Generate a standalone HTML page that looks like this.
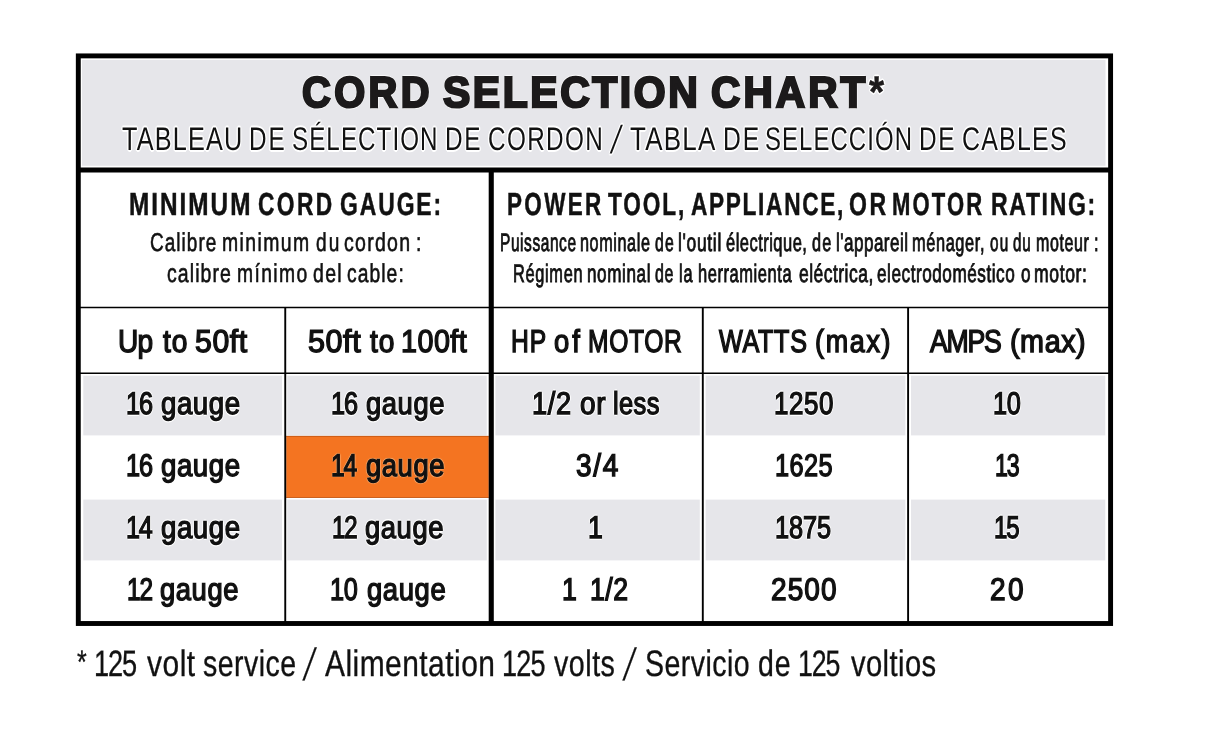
<!DOCTYPE html>
<html lang="en">
<head>
<meta charset="utf-8">
<meta name="viewport" content="width=1214">
<title>Cord Selection Chart</title>
<style>
html,body{margin:0;padding:0;background:#fff;}
body{width:1214px;height:736px;overflow:hidden;position:relative;font-family:"Liberation Sans",sans-serif;}
.chart{position:absolute;left:0;top:0;width:1214px;height:736px;}
.chart svg{position:absolute;left:0;top:0;}
.g{position:absolute;left:0;margin:0;padding:0;width:1214px;height:0;line-height:1;font-family:"Liberation Sans",sans-serif;font-style:normal;text-rendering:geometricPrecision;white-space:nowrap;}
.w{position:absolute;top:0;display:block;white-space:pre;transform-origin:0 0;}
.title{font-size:43.23px;font-weight:700;color:#1c1a1b;-webkit-text-stroke:2.4px #1c1a1b;text-shadow:1.60px 0 0.6px #fff,-1.60px 0 0.6px #fff,0 1.60px 0.6px #fff,0 -1.60px 0.6px #fff,1.13px 1.13px 0.6px #fff,-1.13px 1.13px 0.6px #fff,1.13px -1.13px 0.6px #fff,-1.13px -1.13px 0.6px #fff,0 0 3px #fff;}
.subtitle{font-size:32.72px;font-weight:400;color:#111;text-shadow:1.60px 0 0.6px #fff,-1.60px 0 0.6px #fff,0 1.60px 0.6px #fff,0 -1.60px 0.6px #fff,1.13px 1.13px 0.6px #fff,-1.13px 1.13px 0.6px #fff,1.13px -1.13px 0.6px #fff,-1.13px -1.13px 0.6px #fff,0 0 3px #fff;}
.head{font-size:31.82px;font-weight:700;color:#111;-webkit-text-stroke:0.5px #111;}
.sub{font-size:25.74px;font-weight:400;color:#111;-webkit-text-stroke:0.6px #111;}
.subr{font-size:25.23px;font-weight:400;color:#111;-webkit-text-stroke:0.9px #111;}
.th{font-size:31.67px;font-weight:400;color:#111;-webkit-text-stroke:1.4px #111;}
.td{font-size:31.42px;font-weight:400;color:#111;-webkit-text-stroke:1.4px #111;text-shadow:1.60px 0 0.6px #fff,-1.60px 0 0.6px #fff,0 1.60px 0.6px #fff,0 -1.60px 0.6px #fff,1.13px 1.13px 0.6px #fff,-1.13px 1.13px 0.6px #fff,1.13px -1.13px 0.6px #fff,-1.13px -1.13px 0.6px #fff,0 0 3px #fff;}
.td2{font-size:31.42px;font-weight:400;color:#111;-webkit-text-stroke:1.4px #111;}
.td3{font-size:31.42px;font-weight:400;color:#111;-webkit-text-stroke:1.4px #111;text-shadow:1.40px 0 0.6px #f9a869,-1.40px 0 0.6px #f9a869,0 1.40px 0.6px #f9a869,0 -1.40px 0.6px #f9a869,0.99px 0.99px 0.6px #f9a869,-0.99px 0.99px 0.6px #f9a869,0.99px -0.99px 0.6px #f9a869,-0.99px -0.99px 0.6px #f9a869,0 0 3px #f9a869;}
.foot{font-size:36.79px;font-weight:400;color:#111;-webkit-text-stroke:0.35px #111;}
</style>
</head>
<body>
<main class="chart" aria-label="Cord selection chart">
<svg width="1214" height="736" viewBox="0 0 1214 736" aria-hidden="true">
<g fill="#e6e6ea">
<rect x="82" y="60" width="1023.5" height="105.8"/>
<rect x="83.3" y="375.7" width="198.7" height="59.7"/>
<rect x="287.2" y="375.7" width="199.6" height="59.7"/>
<rect x="495.4" y="375.7" width="204.4" height="59.7"/>
<rect x="705.6" y="375.7" width="199.8" height="59.7"/>
<rect x="911" y="375.7" width="194.3" height="59.7"/>
<rect x="83.3" y="499.6" width="198.7" height="60.8"/>
<rect x="287.2" y="499.6" width="199.6" height="60.8"/>
<rect x="495.4" y="499.6" width="204.4" height="60.8"/>
<rect x="705.6" y="499.6" width="199.8" height="60.8"/>
<rect x="911" y="499.6" width="194.3" height="60.8"/>
</g>
<rect x="286.2" y="436" width="202.6" height="61.8" fill="#f47421"/>
<path d="M286.2 436.3H488.8M286.2 497.5H488.8" stroke="#b8500f" stroke-width="0.9" fill="none" opacity="0.8"/>
<g stroke="#000" fill="none">
<rect x="78.3" y="55.9" width="1032.3" height="567.6" stroke-width="4.9"/>
<line x1="80" y1="170" x2="1109" y2="170" stroke-width="4.9"/>
<line x1="491.25" y1="170" x2="491.25" y2="622" stroke-width="5.1"/>
<line x1="80" y1="307.5" x2="1109" y2="307.5" stroke-width="1.6"/>
<line x1="80" y1="373.2" x2="1109" y2="373.2" stroke-width="1.6"/>
<line x1="285.25" y1="307.5" x2="285.25" y2="622" stroke-width="1.9"/>
<line x1="702.8" y1="307.5" x2="702.8" y2="622" stroke-width="1.9"/>
<line x1="908.1" y1="307.5" x2="908.1" y2="622" stroke-width="1.9"/>
</g>
</svg>
<h1 class="g title" style="top:72px"><span class="w" style="left:302.33px;transform:scaleX(0.9214);letter-spacing:3.74px">CORD</span> <span class="w" style="left:443.05px;transform:scaleX(0.9477);letter-spacing:2.69px">SELECTION</span> <span class="w" style="left:711.24px;transform:scaleX(0.9385);letter-spacing:3.29px">CHART</span> <span class="w" style="left:868.96px;transform:scaleX(0.8802);font-size:44.28px;top:-1px;-webkit-text-stroke:0.5px #1c1a1b">*</span></h1>
<p class="g subtitle" style="top:123px"><span class="w" style="left:122.22px;transform:scaleX(0.7716);letter-spacing:1.5px">TABLEAU</span> <span class="w" style="left:248.83px;transform:scaleX(0.7417);letter-spacing:2.54px">DE</span> <span class="w" style="left:291.55px;transform:scaleX(0.7385);letter-spacing:1.45px">SÉLECTION</span> <span class="w" style="left:444.88px;transform:scaleX(0.7443);letter-spacing:2.38px">DE</span> <span class="w" style="left:488.27px;transform:scaleX(0.7422);letter-spacing:1.84px">CORDON</span> <span class="w" style="left:615.71px;transform:scaleX(0.6941) skewX(-16deg);font-size:38.95px;top:-1px">/</span> <span class="w" style="left:629.86px;transform:scaleX(0.7941);letter-spacing:1.58px">TABLA</span> <span class="w" style="left:722.97px;transform:scaleX(0.7525);letter-spacing:2.7px">DE</span> <span class="w" style="left:765.42px;transform:scaleX(0.7308);letter-spacing:1.49px">SELECCIÓN</span> <span class="w" style="left:919.18px;transform:scaleX(0.7443);letter-spacing:2.38px">DE</span> <span class="w" style="left:962.13px;transform:scaleX(0.762);letter-spacing:1.61px">CABLES</span></p>
<h2 class="g head" style="top:189px"><span class="w" style="left:129.03px;transform:scaleX(0.765);letter-spacing:2.6px">MINIMUM</span> <span class="w" style="left:257.72px;transform:scaleX(0.7152);letter-spacing:3.34px">CORD</span> <span class="w" style="left:340.4px;transform:scaleX(0.7191);letter-spacing:2.69px">GAUGE:</span></h2>
<p class="g sub" style="top:231px"><span class="w" style="left:149.5px;transform:scaleX(0.7373);letter-spacing:1.42px">Calibre</span> <span class="w" style="left:221.64px;transform:scaleX(0.7538);letter-spacing:1.88px">minimum</span> <span class="w" style="left:315.5px;transform:scaleX(0.7413);letter-spacing:2.75px">du</span> <span class="w" style="left:344.34px;transform:scaleX(0.7592);letter-spacing:1.66px">cordon</span> <span class="w" style="left:415.68px;transform:scaleX(0.7538)">:</span></p>
<p class="g sub" style="top:262px"><span class="w" style="left:166.94px;transform:scaleX(0.758);letter-spacing:1.43px">calibre</span> <span class="w" style="left:236.86px;transform:scaleX(0.7504);letter-spacing:1.82px">mínimo</span> <span class="w" style="left:312.59px;transform:scaleX(0.7582);letter-spacing:1.69px">del</span> <span class="w" style="left:347.1px;transform:scaleX(0.749);letter-spacing:1.42px">cable:</span></p>
<h2 class="g head" style="top:189px"><span class="w" style="left:506.91px;transform:scaleX(0.7058);letter-spacing:3.35px">POWER</span> <span class="w" style="left:607.76px;transform:scaleX(0.7114);letter-spacing:2.62px">TOOL,</span> <span class="w" style="left:690.67px;transform:scaleX(0.7119);letter-spacing:2.36px">APPLIANCE,</span> <span class="w" style="left:848.78px;transform:scaleX(0.7234);letter-spacing:3.5px">OR</span> <span class="w" style="left:892.38px;transform:scaleX(0.6922);letter-spacing:3.12px">MOTOR</span> <span class="w" style="left:990.58px;transform:scaleX(0.7238);letter-spacing:2.3px">RATING:</span></h2>
<p class="g subr" style="top:231px"><span class="w" style="left:499.94px;transform:scaleX(0.6144);letter-spacing:0.93px">Puissance</span> <span class="w" style="left:579.72px;transform:scaleX(0.6424);letter-spacing:0.93px">nominale</span> <span class="w" style="left:655.06px;transform:scaleX(0.6255);letter-spacing:1.79px">de</span> <span class="w" style="left:677.9px;transform:scaleX(0.6936);letter-spacing:0.96px">l'outil</span> <span class="w" style="left:726.32px;transform:scaleX(0.653);letter-spacing:0.75px">électrique,</span> <span class="w" style="left:812.42px;transform:scaleX(0.6445);letter-spacing:1.73px">de</span> <span class="w" style="left:835.72px;transform:scaleX(0.6781);letter-spacing:0.68px">l'appareil</span> <span class="w" style="left:912.09px;transform:scaleX(0.6482);letter-spacing:0.95px">ménager,</span> <span class="w" style="left:989.65px;transform:scaleX(0.6061);letter-spacing:1.96px">ou</span> <span class="w" style="left:1013.14px;transform:scaleX(0.6029);letter-spacing:1.39px">du</span> <span class="w" style="left:1035.62px;transform:scaleX(0.635);letter-spacing:0.95px">moteur</span> <span class="w" style="left:1094.24px;transform:scaleX(0.6482)">:</span></p>
<p class="g subr" style="top:262px"><span class="w" style="left:513.09px;transform:scaleX(0.6477);letter-spacing:1.07px">Régimen</span> <span class="w" style="left:586.53px;transform:scaleX(0.6781);letter-spacing:0.88px">nominal</span> <span class="w" style="left:655.44px;transform:scaleX(0.6328);letter-spacing:0.81px">de</span> <span class="w" style="left:678.79px;transform:scaleX(0.6441);letter-spacing:1.37px">la</span> <span class="w" style="left:698.14px;transform:scaleX(0.6538);letter-spacing:0.86px">herramienta</span> <span class="w" style="left:798.57px;transform:scaleX(0.6919);letter-spacing:0.71px">eléctrica,</span> <span class="w" style="left:876.99px;transform:scaleX(0.6804);letter-spacing:0.79px">electrodoméstico</span> <span class="w" style="left:1020.53px;transform:scaleX(0.6804)">o</span> <span class="w" style="left:1034.31px;transform:scaleX(0.6971);letter-spacing:0.88px">motor:</span></p>
<div class="g th" style="top:326px"><span class="w" style="left:117.87px;transform:scaleX(0.887);letter-spacing:-0.95px">Up</span> <span class="w" style="left:162.74px;transform:scaleX(0.8891);letter-spacing:1.01px">to</span> <span class="w" style="left:194.89px;transform:scaleX(0.9538);letter-spacing:0.62px">50ft</span></div>
<div class="g th" style="top:326px"><span class="w" style="left:307.73px;transform:scaleX(0.9651);letter-spacing:0.58px">50ft</span> <span class="w" style="left:370.34px;transform:scaleX(0.8891);letter-spacing:1.01px">to</span> <span class="w" style="left:401.4px;transform:scaleX(0.9071);letter-spacing:0.53px">100ft</span></div>
<div class="g th" style="top:326px"><span class="w" style="left:511.42px;transform:scaleX(0.7782);letter-spacing:1.33px">HP</span> <span class="w" style="left:554.16px;transform:scaleX(0.8659);letter-spacing:3.5px">of</span> <span class="w" style="left:588.35px;transform:scaleX(0.7776);letter-spacing:0.85px">MOTOR</span></div>
<div class="g th" style="top:326px"><span class="w" style="left:719.3px;transform:scaleX(0.7947);letter-spacing:0.85px">WATTS</span> <span class="w" style="left:815.43px;transform:scaleX(0.8504);letter-spacing:1.97px">(max)</span></div>
<div class="g th" style="top:326px"><span class="w" style="left:930.31px;transform:scaleX(0.8414);letter-spacing:-1.5px">AMPS</span> <span class="w" style="left:1010.18px;transform:scaleX(0.9086);letter-spacing:0.6px">(max)</span></div>
<div class="g td" style="top:388px"><span class="w" style="left:125.89px;transform:scaleX(0.8063);letter-spacing:-1.31px">16</span> <span class="w" style="left:160.73px;transform:scaleX(0.8794);letter-spacing:0.63px">gauge</span></div>
<div class="g td" style="top:388px"><span class="w" style="left:331.09px;transform:scaleX(0.8063);letter-spacing:-1.48px">16</span> <span class="w" style="left:366.09px;transform:scaleX(0.8723);letter-spacing:0.65px">gauge</span></div>
<div class="g td" style="top:388px"><span class="w" style="left:532.25px;transform:scaleX(0.8645);letter-spacing:0.76px">1/2</span> <span class="w" style="left:579.64px;transform:scaleX(0.8912);letter-spacing:0.74px">or</span> <span class="w" style="left:613.4px;transform:scaleX(0.8105);letter-spacing:0.49px">less</span></div>
<div class="g td" style="top:388px"><span class="w" style="left:773.97px;transform:scaleX(0.8257);letter-spacing:0.66px">1250</span></div>
<div class="g td" style="top:388px"><span class="w" style="left:992.64px;transform:scaleX(0.8063);letter-spacing:-0.41px">10</span></div>
<div class="g td2" style="top:450px"><span class="w" style="left:125.89px;transform:scaleX(0.8063);letter-spacing:-1.31px">16</span> <span class="w" style="left:160.73px;transform:scaleX(0.8794);letter-spacing:0.63px">gauge</span></div>
<div class="g td3" style="top:450px"><span class="w" style="left:331.2px;transform:scaleX(0.7851);letter-spacing:-1.5px">14</span> <span class="w" style="left:366.09px;transform:scaleX(0.8723);letter-spacing:0.65px">gauge</span></div>
<div class="g td2" style="top:450px"><span class="w" style="left:575.64px;transform:scaleX(0.8912);letter-spacing:1.9px">3/4</span></div>
<div class="g td2" style="top:450px"><span class="w" style="left:774.67px;transform:scaleX(0.8063);letter-spacing:0.49px">1625</span></div>
<div class="g td2" style="top:450px"><span class="w" style="left:994.61px;transform:scaleX(0.7377);letter-spacing:-1.5px">13</span></div>
<div class="g td" style="top:512px"><span class="w" style="left:125.87px;transform:scaleX(0.8002);letter-spacing:-1.5px">14</span> <span class="w" style="left:160.73px;transform:scaleX(0.8794);letter-spacing:0.63px">gauge</span></div>
<div class="g td" style="top:512px"><span class="w" style="left:331.86px;transform:scaleX(0.7634);letter-spacing:-1.5px">12</span> <span class="w" style="left:365.29px;transform:scaleX(0.8723);letter-spacing:0.65px">gauge</span></div>
<div class="g td" style="top:512px"><span class="w" style="left:588.32px;transform:scaleX(0.8488)">1</span></div>
<div class="g td" style="top:512px"><span class="w" style="left:775.42px;transform:scaleX(0.8063);letter-spacing:-0.1px">1875</span></div>
<div class="g td" style="top:512px"><span class="w" style="left:993.94px;transform:scaleX(0.7648);letter-spacing:-1.5px">15</span></div>
<div class="g td2" style="top:574px"><span class="w" style="left:126.62px;transform:scaleX(0.7762);letter-spacing:-1.5px">12</span> <span class="w" style="left:160.09px;transform:scaleX(0.8723);letter-spacing:0.65px">gauge</span></div>
<div class="g td2" style="top:574px"><span class="w" style="left:330.14px;transform:scaleX(0.8063);letter-spacing:-0.41px">10</span> <span class="w" style="left:366.79px;transform:scaleX(0.8739);letter-spacing:0.68px">gauge</span></div>
<div class="g td2" style="top:574px"><span class="w" style="left:561.57px;transform:scaleX(0.8488)">1</span> <span class="w" style="left:589.92px;transform:scaleX(0.8479);letter-spacing:0.65px">1/2</span></div>
<div class="g td2" style="top:574px"><span class="w" style="left:771.18px;transform:scaleX(0.8912);letter-spacing:1.2px">2500</span></div>
<div class="g td2" style="top:574px"><span class="w" style="left:990.33px;transform:scaleX(0.8912);letter-spacing:2.63px">20</span></div>
<p class="g foot" style="top:646px"><span class="w" style="left:76.73px;transform:scaleX(0.7606);font-size:32.88px;top:0px">*</span> <span class="w" style="left:94.35px;transform:scaleX(0.7395);letter-spacing:-1.5px">125</span> <span class="w" style="left:146.62px;transform:scaleX(0.8147);letter-spacing:0.6px">volt</span> <span class="w" style="left:202.74px;transform:scaleX(0.7743);letter-spacing:0.61px">service</span> <span class="w" style="left:310.18px;transform:scaleX(0.6211) skewX(-18deg);font-size:44.82px;top:-3px">/</span> <span class="w" style="left:325.33px;transform:scaleX(0.8143);letter-spacing:0.57px">Alimentation</span> <span class="w" style="left:501.56px;transform:scaleX(0.7375);letter-spacing:-1.19px">125</span> <span class="w" style="left:554.36px;transform:scaleX(0.7794);letter-spacing:0.64px">volts</span> <span class="w" style="left:630.48px;transform:scaleX(0.6211) skewX(-18deg);font-size:44.82px;top:-3px">/</span> <span class="w" style="left:645.41px;transform:scaleX(0.7756);letter-spacing:0.57px">Servicio</span> <span class="w" style="left:758.2px;transform:scaleX(0.774);letter-spacing:1.25px">de</span> <span class="w" style="left:798.39px;transform:scaleX(0.7268);letter-spacing:-1.5px">125</span> <span class="w" style="left:851.34px;transform:scaleX(0.793);letter-spacing:0.51px">voltios</span></p>
</main>
</body>
</html>
